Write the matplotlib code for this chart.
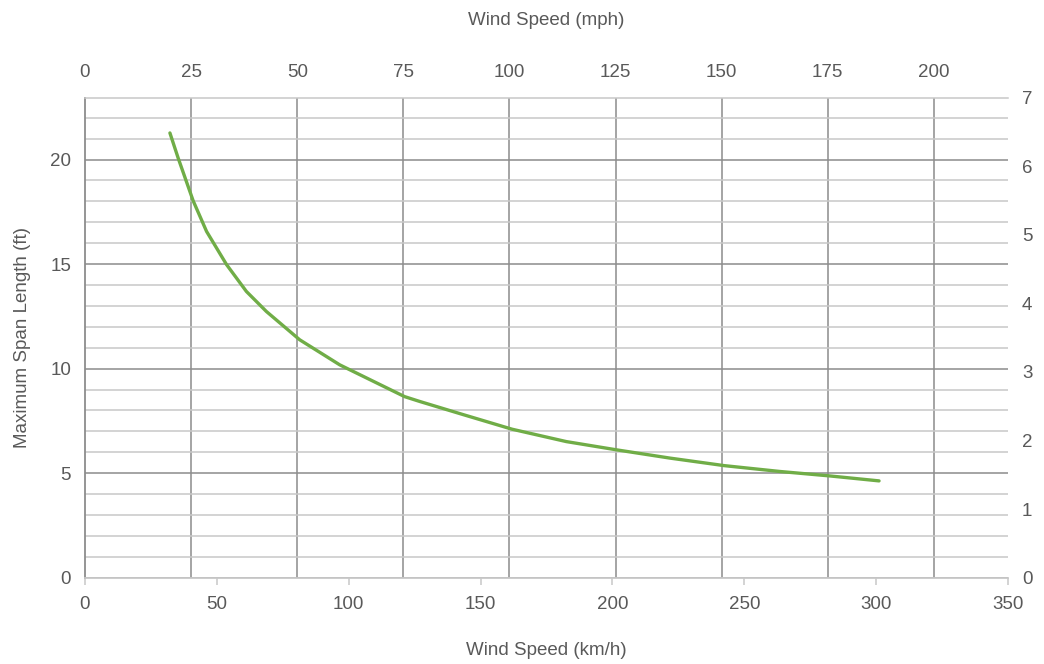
import matplotlib
matplotlib.use("Agg")
import matplotlib.pyplot as plt

# wind speed (km/h) and maximum span length (ft)
speed_kmh = [32.2, 35.3, 41.0, 46.1, 53.7, 61.2, 68.8, 81.4, 96.6, 121.2,
             126.9, 143.4, 162.0, 182.5, 201.8, 221.8, 242.4, 263.5, 282.2, 301.1]
span_ft = [21.27, 20.08, 18.03, 16.56, 14.97, 13.69, 12.73, 11.38, 10.18, 8.66,
           8.43, 7.80, 7.10, 6.51, 6.11, 5.72, 5.36, 5.08, 4.87, 4.63]

kmh_ticks = [0, 50, 100, 150, 200, 250, 300, 350]
mph_ticks = [0, 25, 50, 75, 100, 125, 150, 175, 200]
ft_ticks = [0, 5, 10, 15, 20]
m_ticks = [0, 1, 2, 3, 4, 5, 6, 7]

KMH_PER_MPH = 1.609344
FT_PER_M = 3.28084

txt = '#595959'
dark = '#8c8c8c'
light = '#c8c8c8'
plt.rcParams['font.family'] = ['Liberation Sans', 'DejaVu Sans']
plt.rcParams['font.size'] = 13.5

fig = plt.figure(figsize=(10.44, 6.64), dpi=100)
ax = fig.add_axes([85 / 1044, 86.3 / 664, 923 / 1044, 480.2 / 664])

ax.plot(speed_kmh, span_ft, color='#70ad47', lw=2.4, solid_capstyle='round',
        solid_joinstyle='round', zorder=5)

ax.set_xlim(0, 350)
ax.set_ylim(0, 7 * FT_PER_M)

ax.set_xticks(kmh_ticks)
ax.set_xticks([m * KMH_PER_MPH for m in mph_ticks[1:]], minor=True)
ax.set_yticks(ft_ticks)
ax.set_yticks([v for v in range(1, 23) if v % 5 != 0], minor=True)

ax.grid(axis='x', which='minor', color=dark, lw=1.1)
ax.grid(axis='y', which='major', color=dark, lw=1.1)
ax.grid(axis='y', which='minor', color=light, lw=1.1)
ax.set_axisbelow(True)

ax.tick_params(axis='x', which='major', length=5, width=1.1, color=light,
               labelcolor=txt, pad=8)
ax.tick_params(axis='x', which='minor', length=0)
ax.tick_params(axis='y', which='both', length=0, labelcolor=txt, pad=10)

ax.spines['left'].set_color(dark)
ax.spines['left'].set_linewidth(1.3)
ax.spines['bottom'].set_color(light)
ax.spines['bottom'].set_linewidth(1.3)
ax.spines['top'].set_color(light)
ax.spines['top'].set_linewidth(1.1)
ax.spines['right'].set_visible(False)

top = ax.secondary_xaxis('top', functions=(lambda k: k / KMH_PER_MPH,
                                           lambda m: m * KMH_PER_MPH))
top.set_xticks(mph_ticks)
top.tick_params(length=0, labelcolor=txt, pad=12)
top.spines['top'].set_visible(False)
top.set_xlabel('Wind Speed (mph)', color=txt, labelpad=28)

right = ax.secondary_yaxis('right', functions=(lambda f: f / FT_PER_M,
                                               lambda m: m * FT_PER_M))
right.set_yticks(m_ticks)
right.tick_params(length=0, labelcolor=txt, pad=10)
right.spines['right'].set_visible(False)

ax.set_xlabel('Wind Speed (km/h)', color=txt, va='center')
ax.xaxis.set_label_coords(0.5, -0.151)
ax.set_ylabel('Maximum Span Length (ft)', color=txt, va='center')
ax.yaxis.set_label_coords(-0.068, 0.5)

fig.savefig('out.png', dpi=100)
